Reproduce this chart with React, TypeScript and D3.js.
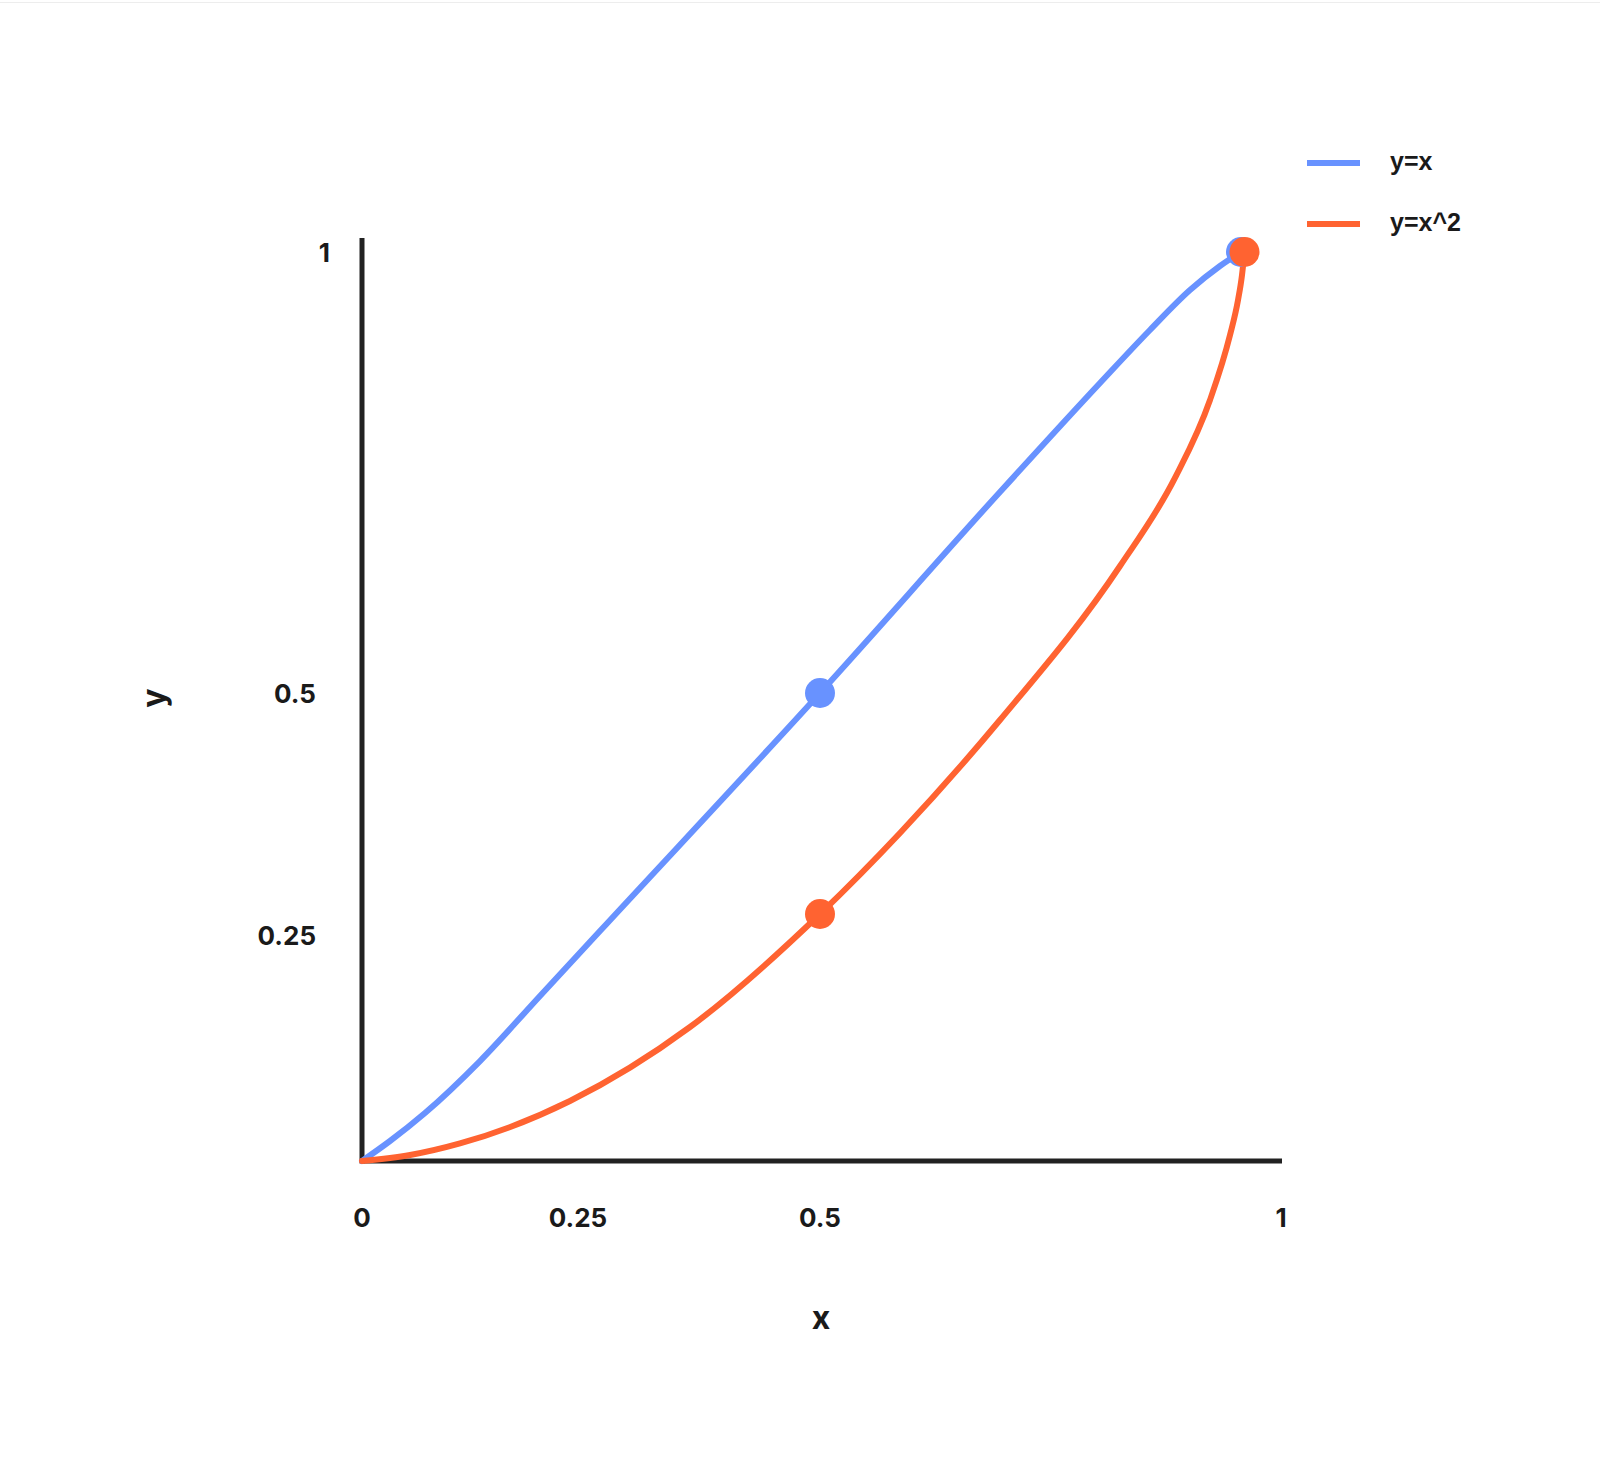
import React from "react";
import * as d3 from "d3";

const tickValues = [0, 0.25, 0.5, 1];
const tickLabels = ["0", "0.25", "0.5", "1"];

const seriesNames = ["y=x", "y=x^2"];
const seriesColors = ["#6892FF", "#FF6331"];

// y = x
const blueX = [0, 0.0324, 0.0729, 0.1366, 0.206, 0.2727, 0.5, 0.6952, 0.8037, 0.8579, 0.9013, 0.9338, 0.9566];
const blueY = [0, 0.0221, 0.0531, 0.1106, 0.1825, 0.2541, 0.5, 0.7279, 0.8515, 0.9116, 0.9569, 0.9841, 1.0];

// y = x^2
const orangeX = [0, 0.0556, 0.1134, 0.2407, 0.3657, 0.5, 0.5868, 0.6952, 0.8254, 0.885, 0.923, 0.9447, 0.9534, 0.9577, 0.9604];
const orangeY = [0, 0.0066, 0.0194, 0.0664, 0.1482, 0.2717, 0.3554, 0.4721, 0.644, 0.7438, 0.8322, 0.9059, 0.9456, 0.9739, 1.0];

// highlighted points
const blueDotsX = [0.5, 0.9566];
const blueDotsY = [0.5, 1.0];
const orangeDotsX = [0.5, 0.9604];
const orangeDotsY = [0.2717, 1.0];

export default function App() {
  const W = 1600;
  const H = 1480;
  const x = d3.scaleLinear().domain(tickValues).range([362, 578, 820, 1281]);
  const y = d3.scaleLinear().domain(tickValues).range([1161, 935, 693, 252]);

  const line = d3
    .line<[number, number]>()
    .x((d) => x(d[0]))
    .y((d) => y(d[1]))
    .curve(d3.curveMonotoneX);

  const blue: [number, number][] = blueX.map((v, i) => [v, blueY[i]]);
  const orange: [number, number][] = orangeX.map((v, i) => [v, orangeY[i]]);

  const font = "Inter, 'Noto Sans', sans-serif";
  const legendFont = "'Liberation Sans', Arial, sans-serif";
  const axisColor = "#222222";

  return (
    <svg
      width={W}
      height={H}
      viewBox={`0 0 ${W} ${H}`}
      style={{ position: "absolute", left: 0, top: 0, background: "#fff" }}
    >
      <rect x={0} y={0} width={W} height={H} fill="#ffffff" />
      <rect x={0} y={2} width={W} height={1} fill="#ededed" />

      {/* axes */}
      <line x1={x(0)} x2={x(1) + 1} y1={y(0)} y2={y(0)} stroke={axisColor} strokeWidth={5} />
      <line x1={x(0)} x2={x(0)} y1={y(0) + 2.5} y2={y(1) - 14} stroke={axisColor} strokeWidth={5} />

      {/* x tick labels */}
      {tickValues.map((v, i) => (
        <text
          key={"xt" + i}
          x={x(v)}
          y={1227}
          textAnchor="middle"
          fontFamily={font}
          fontWeight={700}
          fontSize={26}
          fill="#1a1a1a"
        >
          {tickLabels[i]}
        </text>
      ))}

      {/* y tick labels */}
      {tickValues.map((v, i) =>
        v === 0 ? null : (
          <text
            key={"yt" + i}
            x={v === 1 ? 330 : 316}
            y={y(v) + 9.5}
            textAnchor="end"
            fontFamily={font}
            fontWeight={700}
            fontSize={26}
            fill="#1a1a1a"
          >
            {tickLabels[i]}
          </text>
        )
      )}

      {/* axis titles */}
      <text x={821} y={1329} textAnchor="middle" fontFamily={font} fontWeight={700} fontSize={32} fill="#1a1a1a">
        x
      </text>
      <text
        transform="translate(165,698) rotate(-90)"
        textAnchor="middle"
        fontFamily={font}
        fontWeight={700}
        fontSize={32}
        fill="#1a1a1a"
      >
        y
      </text>

      {/* curves */}
      <path d={line(blue) || ""} fill="none" stroke={seriesColors[0]} strokeWidth={6} strokeLinecap="round" />
      <path d={line(orange) || ""} fill="none" stroke={seriesColors[1]} strokeWidth={6} strokeLinecap="round" />

      {/* points */}
      {blueDotsX.map((v, i) => (
        <circle key={"bd" + i} cx={x(v)} cy={y(blueDotsY[i])} r={15} fill={seriesColors[0]} />
      ))}
      {orangeDotsX.map((v, i) => (
        <circle key={"od" + i} cx={x(v)} cy={y(orangeDotsY[i])} r={15} fill={seriesColors[1]} />
      ))}

      {/* legend */}
      {seriesNames.map((name, i) => (
        <g key={"lg" + i} transform={`translate(0, ${163 + i * 61})`}>
          <line x1={1307} x2={1360} y1={0} y2={0} stroke={seriesColors[i]} strokeWidth={6} />
          <text x={1390} y={7} fontFamily={legendFont} fontWeight={700} fontSize={25} fill="#1a1a1a">
            {name}
          </text>
        </g>
      ))}
    </svg>
  );
}
